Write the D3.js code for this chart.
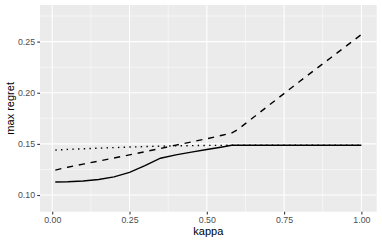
<!DOCTYPE html>
<html><head><meta charset="utf-8">
<script src="https://cdn.jsdelivr.net/npm/d3@7"></script>
<style>body{margin:0;background:#fff}svg{display:block}</style>
</head><body>
<svg id="c" width="382" height="243"></svg>
<script>
const kappa   = [0.01, 0.05, 0.1, 0.15, 0.2, 0.25, 0.3, 0.35, 0.4, 0.45, 0.5, 0.55, 0.58, 0.6, 0.7, 0.8, 0.9, 1.0];
const solid   = [0.1128,0.1130,0.1137,0.1152,0.1177,0.1222,0.1287,0.1360,0.1393,0.1420,0.1445,0.1470,0.1487,0.1487,0.1487,0.1487,0.1487,0.1487];
const dashed  = [0.1244,0.1272,0.1302,0.1332,0.1362,0.1392,0.1424,0.1455,0.1488,0.1519,0.1550,0.1585,0.1605,0.1640,0.1875,0.2110,0.2340,0.2570];
const dotted  = [0.1439,0.1446,0.1452,0.1458,0.1464,0.1469,0.1474,0.1478,0.1481,0.1483,0.1485,0.1486,0.1487,0.1487,0.1487,0.1487,0.1487,0.1487];
const xTicks = [0, 0.25, 0.5, 0.75, 1.0];
const yTicks = [0.10, 0.15, 0.20, 0.25];
const xLabel = "kappa", yLabel = "max regret";

const svg = d3.select("#c");
const L = 40, R = 376.7, T = 5, B = 211.7;
const x = d3.scaleLinear().domain([-0.0395, 1.0495]).range([L, R]);
const y = d3.scaleLinear().domain([0.0837, 0.2858]).range([B, T]);

svg.append("rect").attr("x", L).attr("y", T).attr("width", R - L).attr("height", B - T).attr("fill", "#EBEBEB");
const g = svg.append("g");
const xMinor = [0.125, 0.375, 0.625, 0.875];
const yMinor = [0.125, 0.175, 0.225, 0.275];
g.selectAll(".xm").data(xMinor).join("line").attr("x1", d => x(d)).attr("x2", d => x(d)).attr("y1", T).attr("y2", B).attr("stroke", "#fff").attr("stroke-width", 0.53);
g.selectAll(".ym").data(yMinor).join("line").attr("y1", d => y(d)).attr("y2", d => y(d)).attr("x1", L).attr("x2", R).attr("stroke", "#fff").attr("stroke-width", 0.53);
g.selectAll(".xM").data(xTicks).join("line").attr("x1", d => x(d)).attr("x2", d => x(d)).attr("y1", T).attr("y2", B).attr("stroke", "#fff").attr("stroke-width", 1.07);
g.selectAll(".yM").data(yTicks).join("line").attr("y1", d => y(d)).attr("y2", d => y(d)).attr("x1", L).attr("x2", R).attr("stroke", "#fff").attr("stroke-width", 1.07);

const line = d3.line().x(d => x(d[0])).y(d => y(d[1]));
const series = [
  {v: solid, dash: null},
  {v: dashed, dash: "6.2,5.8"},
  {v: dotted, dash: "1.4,4.3"}
];
series.forEach(s => {
  svg.append("path").datum(kappa.map((k, i) => [k, s.v[i]]))
    .attr("d", line).attr("fill", "none").attr("stroke", "#000").attr("stroke-width", 1.4)
    .attr("stroke-dasharray", s.dash);
});

const xa = svg.append("g").attr("transform", `translate(0,${B})`)
  .call(d3.axisBottom(x).tickValues(xTicks).tickFormat(d3.format(".2f")).tickSize(2.75).tickPadding(2.2));
const ya = svg.append("g").attr("transform", `translate(${L},0)`)
  .call(d3.axisLeft(y).tickValues(yTicks).tickFormat(d3.format(".2f")).tickSize(2.75).tickPadding(2.2));
[xa, ya].forEach(a => {
  a.select(".domain").remove();
  a.selectAll("line").attr("stroke", "#333333").attr("stroke-width", 1.07);
  a.selectAll("text").attr("fill", "#4D4D4D").style("font-family", "Liberation Sans, Arial, sans-serif").style("font-size", "8.8px");
});

svg.append("text").attr("x", (L + R) / 2).attr("y", 235.3).attr("text-anchor", "middle")
  .style("font-family", "Liberation Sans, Arial, sans-serif").style("font-size", "11px").text(xLabel);
svg.append("text").attr("transform", `translate(13.6,${(T + B) / 2}) rotate(-90)`).attr("text-anchor", "middle")
  .style("font-family", "Liberation Sans, Arial, sans-serif").style("font-size", "11px").text(yLabel);
</script>
</body></html>
